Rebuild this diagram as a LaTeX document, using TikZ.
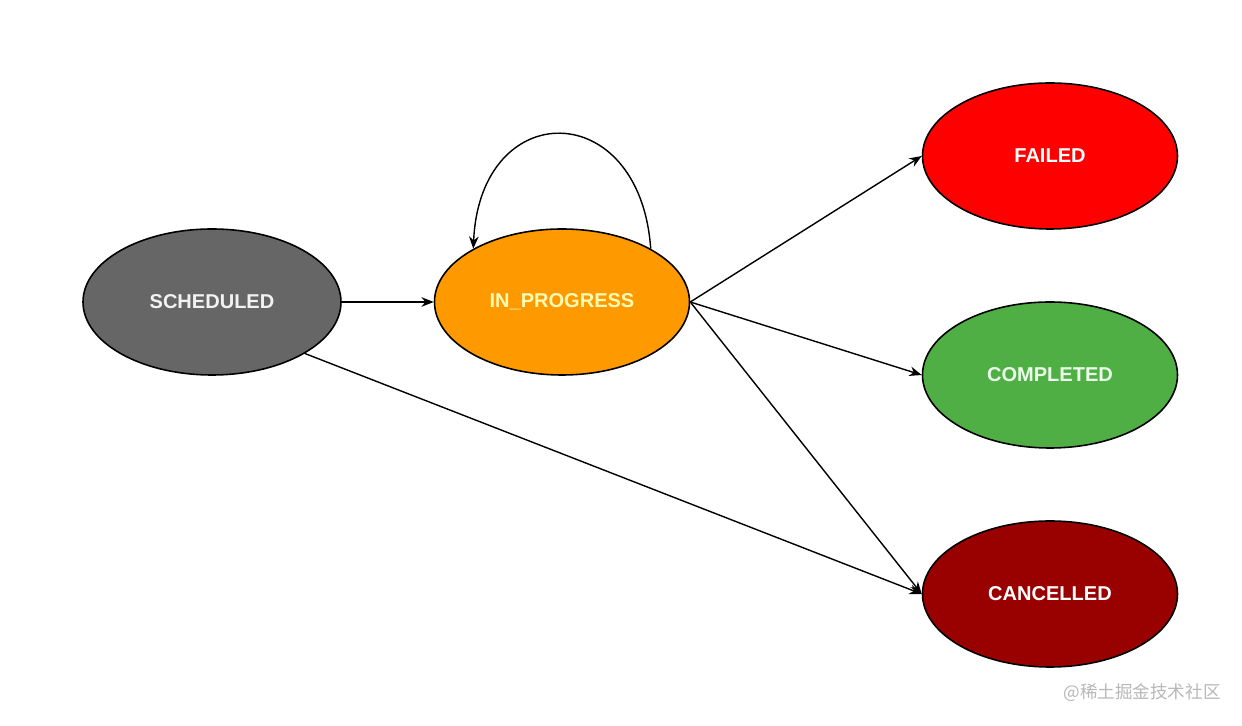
\documentclass[tikz,border=0pt]{standalone}
\usepackage{xcolor}
\usepackage{fontspec}
\setmainfont{Liberation Sans}
\newfontfamily\cjkfont{Noto Sans CJK SC}
\usepackage{tikz}
\usetikzlibrary{shapes.geometric, arrows.meta, positioning}
\definecolor{schedgray}{HTML}{666666}
\definecolor{progorange}{HTML}{FF9900}
\definecolor{failred}{HTML}{FF0000}
\definecolor{compgreen}{HTML}{4FAF44}
\definecolor{cancred}{HTML}{990000}
\tikzstyle{state} = [ellipse, draw=black, line width=0.9pt, minimum width=5.1cm, minimum height=2.92cm, inner sep=0pt, font=\fontsize{11.4}{13}\selectfont\bfseries, text=white]
\tikzstyle{arrow} = [line width=0.8pt, -{Stealth[length=7pt,width=5.5pt]}]

\begin{document}
\begin{tikzpicture}
    \useasboundingbox[fill=white] (0,0) rectangle (24.84,14.52);

    % States
    \node[state, fill=schedgray, minimum width=5.16cm, text=white!95!black] (sched) at (4.24,8.48) {SCHEDULED};
    \node[state, fill=progorange, text=yellow!30!white] (prog) at (11.24,8.48) {IN\_PROGRESS};
    \node[state, fill=failred] (fail) at (21.0,11.4) {FAILED};
    \node[state, fill=compgreen, text=green!8!white] (comp) at (21.0,7.02) {COMPLETED};
    \node[state, fill=cancred] (canc) at (21.0,2.64) {CANCELLED};

    % Transitions
    \draw[arrow] (sched.east) -- (prog.west);
    \draw[arrow] (prog.31) .. controls (12.8,12.6) and (9.6,12.6) .. (prog.149);
    \draw[arrow] (prog.east) -- (fail.west);
    \draw[arrow] (prog.east) -- (comp.west);
    \draw[arrow] (prog.east) -- (canc.west);
    \draw[arrow] (sched.-29) -- (canc.west);

    % Watermark
    \node[text=black!28, font=\cjkfont\fontsize{10}{12}\selectfont] (mark) at (22.84,0.66) {@稀土掘金技术社区};
\end{tikzpicture}
\end{document}
